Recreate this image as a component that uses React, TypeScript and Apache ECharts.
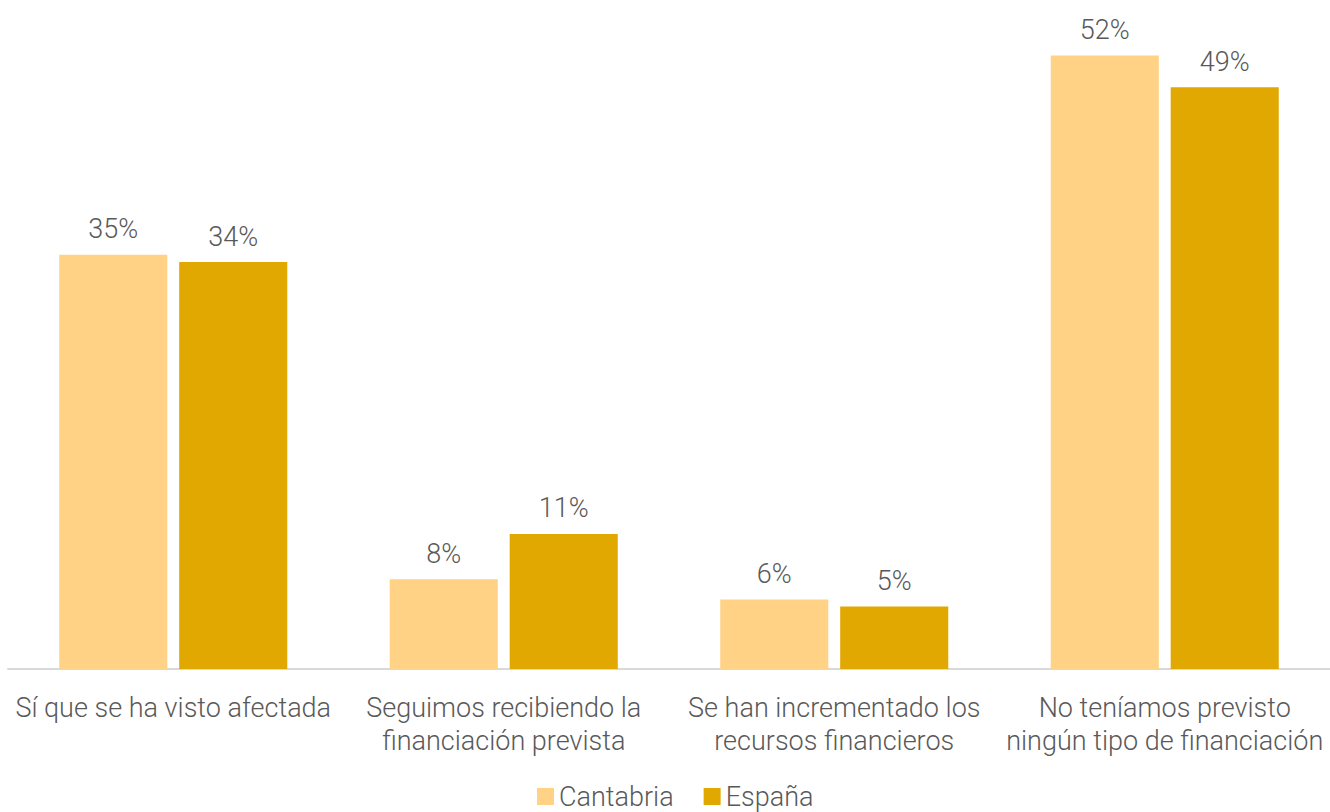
import React, { useEffect, useRef } from "react";
import * as echarts from "echarts";

const categories = [
  "Sí que se ha visto afectada",
  "Seguimos recibiendo la\nfinanciación prevista",
  "Se han incrementado los\nrecursos financieros",
  "No teníamos previsto\nningún tipo de financiación",
];
const cantabria = [35.1, 7.6, 5.9, 52.0];
const espana = [34.49, 11.45, 5.3, 49.3];
const seriesNames = ["Cantabria", "España"];

const FONT = "Roboto, 'Noto Sans', sans-serif";
const TEXT = "#595959";
const FS = 27;

export default function App() {
  const ref = useRef<HTMLDivElement>(null);
  useEffect(() => {
    document.body.style.margin = "0";
    const chart = echarts.init(ref.current!, null, { renderer: "svg" });
    const label = {
      show: true,
      position: "top" as const,
      distance: 12,
      color: TEXT,
      fontSize: FS,
      fontWeight: 300,
      fontFamily: FONT,
      formatter: (p: any) => Math.round(p.value) + "%",
    };
    chart.setOption({
      animation: false,
      textStyle: { fontFamily: FONT },
      legend: {
        top: 783,
        left: 537,
        padding: 0,
        itemWidth: 17,
        itemHeight: 17,
        itemGap: 30,
        icon: "rect",
        textStyle: { color: TEXT, fontSize: FS, fontWeight: 300, fontFamily: FONT },
        data: seriesNames,
      },
      grid: { left: 8, right: 0, top: 20, bottom: 143, containLabel: false },
      xAxis: {
        type: "category",
        data: categories,
        axisLine: { show: true, lineStyle: { color: "#d9d9d9", width: 2 } },
        axisTick: { show: false },
        axisLabel: {
          color: TEXT,
          fontSize: FS,
          fontWeight: 300,
          fontFamily: FONT,
          lineHeight: 33,
          margin: 22,
          interval: 0,
        },
      },
      yAxis: {
        type: "value",
        min: 0,
        max: 55,
        show: false,
        splitLine: { show: false },
      },
      series: [
        {
          name: seriesNames[0],
          type: "bar",
          data: cantabria,
          barWidth: "32.7%",
          barGap: "11%",
          itemStyle: { color: "#FFD285" },
          label,
        },
        {
          name: seriesNames[1],
          type: "bar",
          data: espana,
          barWidth: "32.7%",
          itemStyle: { color: "#E0A800" },
          label,
        },
      ],
    });
    return () => chart.dispose();
  }, []);
  return <div ref={ref} style={{ width: 1330, height: 812 }} />;
}
